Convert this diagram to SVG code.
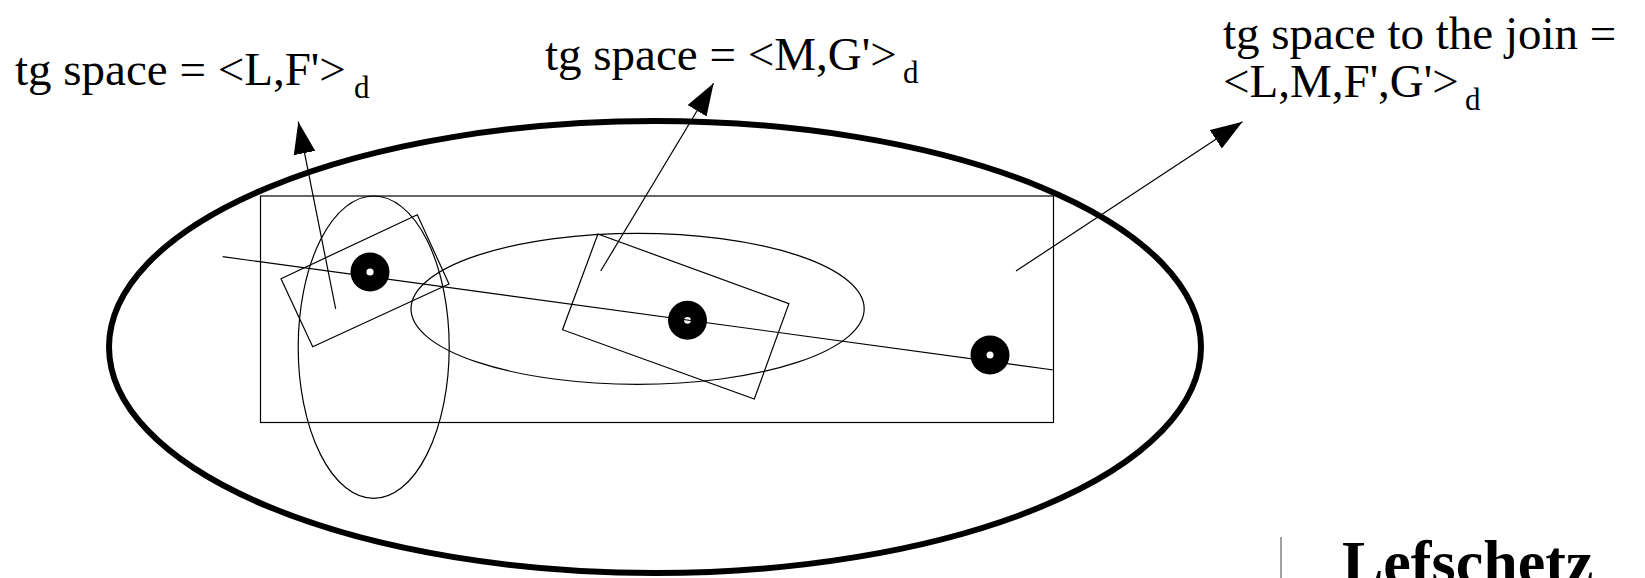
<svg xmlns="http://www.w3.org/2000/svg" width="1645" height="578" viewBox="0 0 1645 578">
<style>
.thin{fill:none;stroke:#000;stroke-width:1.2}
.big{fill:none;stroke:#000;stroke-width:6}
.lbl{font-family:"Liberation Serif","Times New Roman",serif;font-size:47px;fill:#000}
.sub{font-family:"Liberation Serif","Times New Roman",serif;font-size:31px;fill:#000}
.dot{fill:#000}
.hole{fill:#fff}
.arrow{fill:none;stroke:#000;stroke-width:1.2;marker-end:url(#ah)}
</style>
<defs>
<marker id="ah" markerUnits="userSpaceOnUse" markerWidth="33" markerHeight="23" refX="32" refY="11" orient="auto">
<path d="M0,0 L32,11 L0,22 z" fill="#000"/>
</marker>
</defs>
<rect width="1645" height="578" fill="#fff"/>
<g id="outer-ellipse"><ellipse class="big" cx="655" cy="347" rx="546" ry="226"/></g>
<g id="join-rect"><rect class="thin" x="260.5" y="196" width="793" height="226.5" stroke="#333"/></g>
<g id="ellipse-L"><ellipse class="thin" cx="373.7" cy="347.2" rx="75.5" ry="151.2"/></g>
<g id="ellipse-M"><ellipse class="thin" cx="637.6" cy="308.8" rx="226.6" ry="75.5"/></g>
<g id="plane-LF"><polygon class="thin" points="281,278.7 417.3,214.7 449,284 312.7,346.7"/></g>
<g id="plane-MG"><polygon class="thin" points="597.9,234 788.9,303.7 754.3,399 562.5,329.7"/></g>
<g id="dot1"><circle class="dot" cx="370" cy="272" r="19.5"/><circle class="hole" cx="370" cy="272" r="3.6"/></g>
<g id="dot2"><circle class="dot" cx="687.5" cy="320.3" r="19.5"/><circle class="hole" cx="687.5" cy="320.3" r="3.4"/></g>
<g id="dot3"><circle class="dot" cx="990" cy="355" r="19.5"/><circle class="hole" cx="990" cy="355" r="3.5"/></g>
<g id="connectors">
<line class="thin" x1="222.7" y1="256.7" x2="1053.6" y2="370"/>
<line class="arrow" x1="335.7" y1="309" x2="298.3" y2="121.7"/>
<line class="arrow" x1="600.7" y1="271" x2="713.6" y2="83.3"/>
<line class="arrow" x1="1016" y1="271" x2="1242.5" y2="121.7"/>
</g>
<g id="label-LF"><text class="lbl" x="15" y="85">tg space = &lt;L,F'&gt;</text><text class="sub" x="354" y="98">d</text></g>
<g id="label-MG"><text class="lbl" x="545" y="70">tg space = &lt;M,G'&gt;</text><text class="sub" x="903" y="83">d</text></g>
<g id="label-join"><text class="lbl" x="1223" y="49">tg space to the join =</text><text class="lbl" x="1223" y="97">&lt;L,M,F',G'&gt;</text><text class="sub" x="1465" y="110">d</text></g>
<g id="lefschetz"><line x1="1281" y1="537" x2="1281" y2="578" stroke="#444" stroke-width="1"/><text x="1342" y="583" font-family="'Liberation Serif','Times New Roman',serif" font-size="62" font-weight="bold" fill="#000">Lefschetz</text></g>
</svg>
